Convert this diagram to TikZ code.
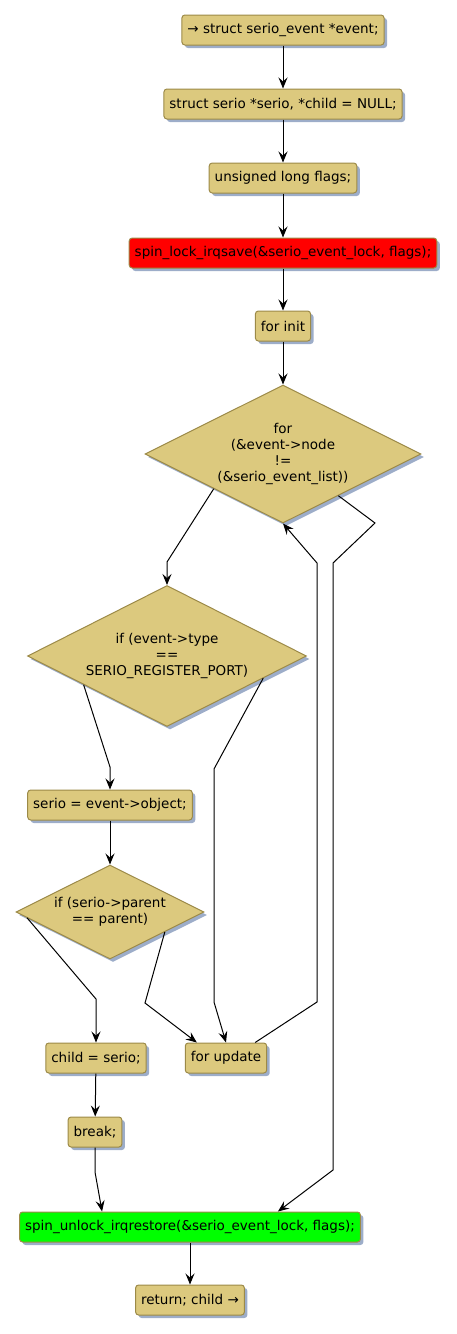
\documentclass[tikz,border=0pt]{standalone}
\usepackage{fontspec}
\setmainfont{DejaVu Sans}
\usetikzlibrary{arrows.meta, shapes.geometric, shadows}
\definecolor{ctan}{HTML}{DCC97E}
\definecolor{cedge}{HTML}{9C8A48}
\definecolor{cshadow}{HTML}{9DADC9}
\tikzset{
  every picture/.style={font=\fontsize{13.5}{16.3}\selectfont, line width=1pt},
  stmt/.style={draw=cedge, fill=#1, rounded corners=3pt, inner xsep=5.5pt, inner ysep=0pt, minimum height=30pt,
               drop shadow={shadow xshift=3pt, shadow yshift=-3pt, fill=cshadow, opacity=1}},
  stmt/.default=ctan,
  cond/.style={diamond, aspect=2, draw=cedge, fill=ctan, align=center, inner sep=0pt,
               drop shadow={shadow xshift=3pt, shadow yshift=-3pt, fill=cshadow, opacity=1}},
  arrow/.style={-{Stealth[length=11pt, width=9pt, inset=4pt]}, line width=1pt},
}

\begin{document}
\begin{tikzpicture}[x=1pt, y=-1pt]
  \useasboundingbox (0,0) rectangle (457,1334);
  % straight run down to the loop
  \node[stmt] (start) at (283,30) {→ struct serio\_event *event;};
  \node[stmt] (decl) at (283,104) {struct serio *serio, *child = NULL;};
  \node[stmt] (flags) at (283,178) {unsigned long flags;};
  \node[stmt=red] (lock) at (283,253) {spin\_lock\_irqsave(\&serio\_event\_lock, flags);};
  \node[stmt] (forinit) at (283,326) {for init};
  \node[cond, minimum width=276pt, minimum height=138pt] (loop) at (283,454)
    {for\\(\&event->node\\!=\\(\&serio\_event\_list))};
  % loop body
  \node[cond, minimum width=279pt, minimum height=141pt] (iftype) at (167,656)
    {if (event->type\\==\\SERIO\_REGISTER\_PORT)};
  \node[stmt] (getobj) at (110,805) {serio = event->object;};
  \node[cond, minimum width=188pt, minimum height=94pt] (ifparent) at (110,912)
    {if (serio->parent\\== parent)};
  \node[stmt] (setchild) at (96,1058) {child = serio;};
  \node[stmt] (forupd) at (226,1058) {for update};
  \node[stmt] (brk) at (95,1132) {break;};
  % after the loop
  \node[stmt=green] (unlock) at (190,1227) {spin\_unlock\_irqrestore(\&serio\_event\_lock, flags);};
  \node[stmt] (ret) at (190,1300) {return; child →};

  \draw[arrow] (start) -- (decl);
  \draw[arrow] (decl) -- (flags);
  \draw[arrow] (flags) -- (lock);
  \draw[arrow] (lock) -- (forinit);
  \draw[arrow] (forinit) -- (loop);
  \draw[arrow] (loop.south west) -- (167,562) -- (iftype.north);
  \draw[arrow] (loop.323) -- (375,523) -- (333,563) -- (333,1170) -- (unlock.10);
  \draw[arrow] (iftype.199) -- (110,767) -- (getobj.north);
  \draw[arrow] (iftype.347) -- (214,769) -- (214,1002) -- (forupd.north);
  \draw[arrow] (getobj) -- (ifparent);
  \draw[arrow] (ifparent.184) -- (96,999) -- (setchild.north);
  \draw[arrow] (ifparent.340) -- (145,1003) -- (forupd.152);
  \draw[arrow] (setchild) -- (brk);
  \draw[arrow] (brk.south) -- (95,1172) -- (unlock.170);
  \draw[arrow] (forupd.28) -- (317,1002) -- (317,563) -- (loop.south);
  \draw[arrow] (unlock) -- (ret);
\end{tikzpicture}
\end{document}
